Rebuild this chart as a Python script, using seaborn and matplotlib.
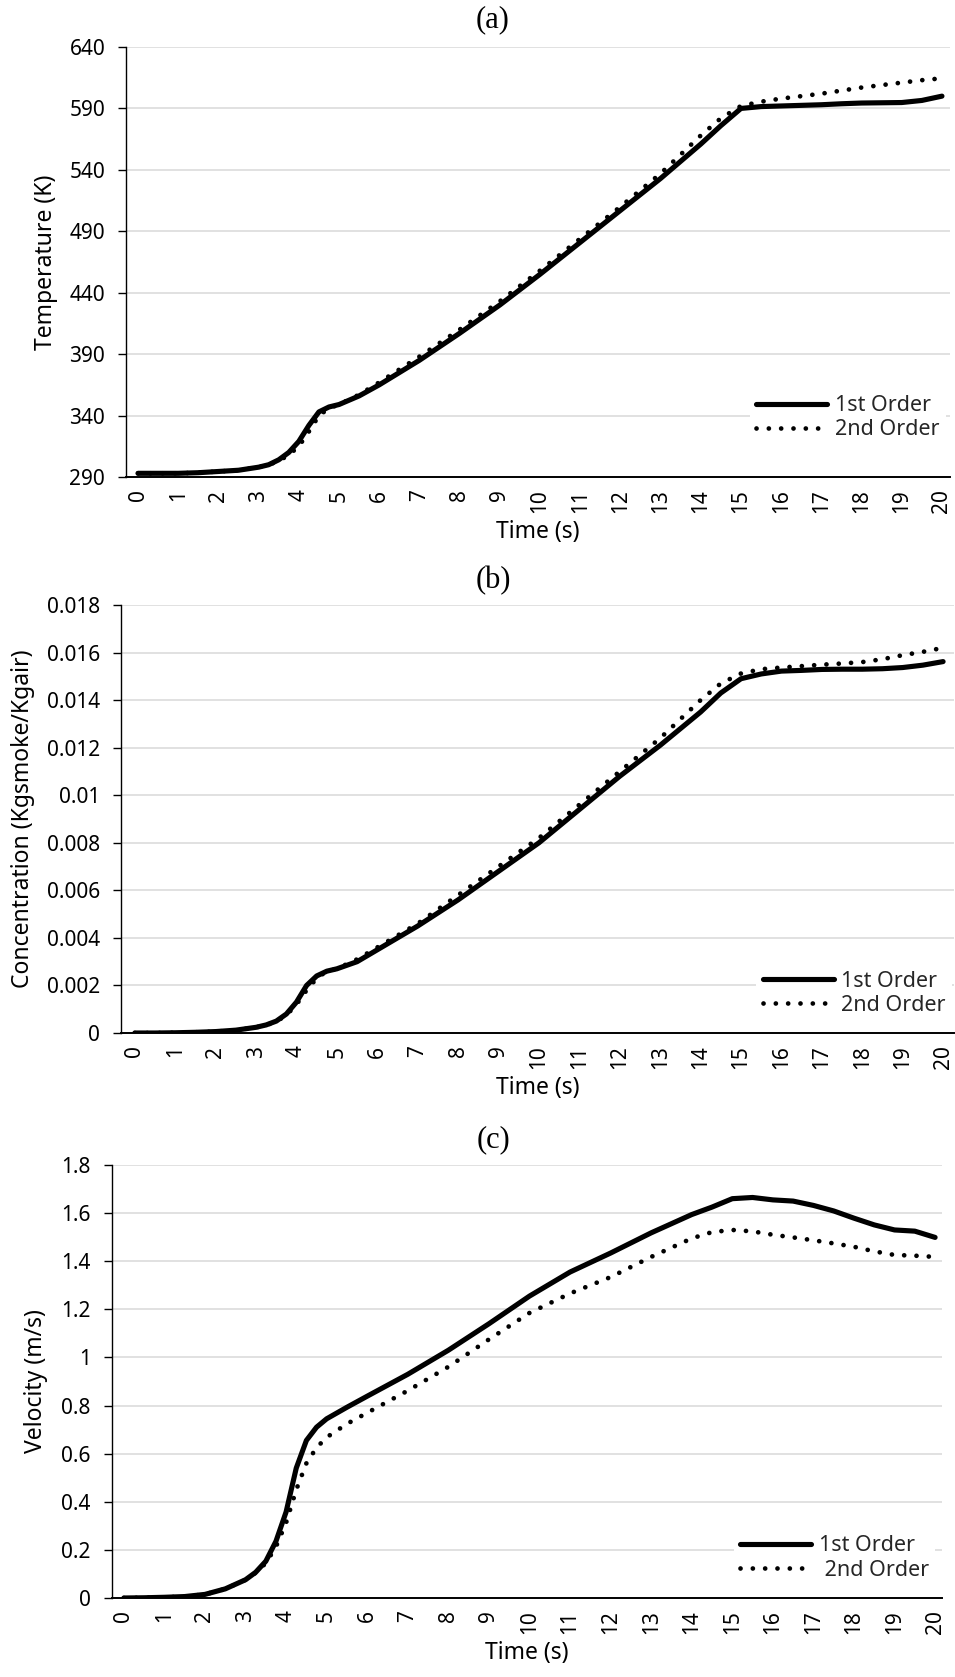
import numpy as np
import pandas as pd
import matplotlib
matplotlib.use("Agg")
import matplotlib.pyplot as plt
import seaborn as sns

# time points (s) the curves were read at
time = [0, 0.5, 1, 1.5, 2, 2.5, 3, 3.25, 3.5, 3.75, 4, 4.25, 4.5, 4.75, 5, 5.5, 6, 7, 8, 9,
        10, 11, 12, 13, 14, 14.5, 15, 15.5, 16, 16.5, 17, 17.5, 18, 18.5, 19, 19.5, 20]

# (a) temperature (K)
temp_1st = [293, 293, 293, 293.5, 294.5, 295.5, 298, 300, 304, 310, 319, 332, 343, 347, 349, 356, 365,
            385, 407, 430, 455, 481, 507, 533, 561, 576, 590, 591.5, 592, 592.5, 593, 593.8, 594.4,
            594.6, 594.8, 596.5, 600]
temp_2nd = [293, 293, 293, 293.5, 294.5, 295.5, 298, 300, 303, 308, 315, 327, 340, 346, 349, 357, 367,
            388, 410, 433, 458, 484, 510, 537, 568, 582, 592, 595.5, 598, 600, 602, 604.5, 607,
            609, 611, 613, 614.5]

# (b) concentration (kg smoke / kg air)
conc_1st = [0, 0, 0.00001, 0.00003, 0.00006, 0.00012, 0.00024, 0.00034, 0.0005, 0.0008, 0.0013, 0.002,
            0.0024, 0.0026, 0.0027, 0.003, 0.0035, 0.0045, 0.0056, 0.0068, 0.008, 0.0094, 0.0108,
            0.0121, 0.0135, 0.0143, 0.0149, 0.0151, 0.01522, 0.01525, 0.01529, 0.0153, 0.0153,
            0.01532, 0.01537, 0.01547, 0.01562]
conc_2nd = [0, 0, 0.00001, 0.00003, 0.00006, 0.00012, 0.00024, 0.00033, 0.00048, 0.00075, 0.0012, 0.0018,
            0.0023, 0.0026, 0.0027, 0.0031, 0.0036, 0.0046, 0.0058, 0.007, 0.0082, 0.0096, 0.011,
            0.0124, 0.014, 0.0147, 0.01512, 0.0153, 0.01537, 0.01543, 0.01549, 0.01554, 0.0156,
            0.01572, 0.01589, 0.01603, 0.0162]

# (c) velocity (m/s)
vel_1st = [0, 0.001, 0.003, 0.006, 0.015, 0.038, 0.076, 0.107, 0.153, 0.236, 0.358, 0.54, 0.655, 0.71,
           0.745, 0.793, 0.839, 0.93, 1.03, 1.14, 1.255, 1.355, 1.434, 1.518, 1.594, 1.625, 1.66,
           1.665, 1.655, 1.65, 1.632, 1.609, 1.579, 1.551, 1.53, 1.525, 1.499]
vel_2nd = [0, 0.001, 0.003, 0.006, 0.015, 0.038, 0.076, 0.105, 0.145, 0.213, 0.313, 0.45, 0.56, 0.625,
           0.668, 0.724, 0.77, 0.862, 0.961, 1.075, 1.185, 1.266, 1.334, 1.418, 1.495, 1.521, 1.53,
           1.524, 1.51, 1.499, 1.487, 1.474, 1.46, 1.441, 1.426, 1.423, 1.418]

x_ticks = list(range(0, 21))
temp_ticks = [290, 340, 390, 440, 490, 540, 590, 640]
conc_ticks = [0, 0.002, 0.004, 0.006, 0.008, 0.01, 0.012, 0.014, 0.016, 0.018]
conc_ticklabels = ['0', '0.002', '0.004', '0.006', '0.008', '0.01', '0.012', '0.014', '0.016', '0.018']
vel_ticks = [0, 0.2, 0.4, 0.6, 0.8, 1.0, 1.2, 1.4, 1.6, 1.8]
vel_ticklabels = ['0', '0.2', '0.4', '0.6', '0.8', '1', '1.2', '1.4', '1.6', '1.8']

sns.set_theme(style="white")
plt.rcParams['font.family'] = ['Noto Sans', 'DejaVu Sans']

W, H = 955, 1677
fig = plt.figure(figsize=(W / 100, H / 100), dpi=100)

def box(l, t, r, b):
    return [l / W, 1 - b / H, (r - l) / W, (b - t) / H]

panels = [
    dict(rect=box(126, 47, 950, 477), y1=temp_1st, y2=temp_2nd, ticks=temp_ticks,
         labels=[str(v) for v in temp_ticks], ylabel='Temperature (K)', xlim=(-0.3, 20.2),
         tag='(a)', tag_y=20, ylab_x=-0.083, leg=(0.995, 0.07), lab2='2nd Order'),
    dict(rect=box(120.7, 605, 954, 1033), y1=conc_1st, y2=conc_2nd, ticks=conc_ticks,
         labels=conc_ticklabels, ylabel='Concentration (Kgsmoke/Kgair)', xlim=(-0.35, 20.27),
         tag='(b)', tag_y=581, ylab_x=-0.103, leg=(0.998, 0.025), lab2='2nd Order'),
    dict(rect=box(111.7, 1165, 942, 1598), y1=vel_1st, y2=vel_2nd, ticks=vel_ticks,
         labels=vel_ticklabels, ylabel='Velocity (m/s)', xlim=(-0.3, 20.17),
         tag='(c)', tag_y=1140, ylab_x=-0.077, leg=(0.992, 0.025), lab2=' 2nd Order'),
]

for p in panels:
    ax = fig.add_axes(p['rect'])
    df = pd.DataFrame({'Time': time, 'first': p['y1'], 'second': p['y2']})
    sns.lineplot(data=df, x='Time', y='first', ax=ax, color='black', lw=3.7,
                 solid_capstyle='round', solid_joinstyle='round', label='1st Order')
    sns.lineplot(data=df, x='Time', y='second', ax=ax, color='black', lw=3.4,
                 linestyle=(0, (0.01, 2.6)), dash_capstyle='round', label=p['lab2'])

    ax.set_xlim(*p['xlim'])
    ax.set_ylim(p['ticks'][0], p['ticks'][-1])
    ax.set_xticks(x_ticks)
    ax.set_xticklabels([str(v) for v in x_ticks], rotation=90)
    ax.set_yticks(p['ticks'])
    ax.set_yticklabels(p['labels'])
    ax.tick_params(axis='x', length=0, pad=9, labelsize=15, colors='black')
    ax.tick_params(axis='y', length=6, width=1, pad=9, labelsize=15, colors='black', left=True)
    ax.grid(axis='y', color='#d9d9d9', lw=1.1)
    ax.grid(axis='x', visible=False)
    ax.set_axisbelow(True)
    for s in ['top', 'right']:
        ax.spines[s].set_visible(False)
    ax.spines['left'].set_color('black')
    ax.spines['left'].set_linewidth(1.0)
    ax.spines['bottom'].set_color('black')
    ax.spines['bottom'].set_linewidth(1.4)
    ax.set_xlabel('Time (s)', fontsize=16.5, color='black', labelpad=5)
    ax.set_ylabel(p['ylabel'], fontsize=16.5, color='black')
    ax.yaxis.set_label_coords(p['ylab_x'], 0.5)

    leg = ax.legend(loc='lower right', bbox_to_anchor=p['leg'], borderaxespad=0,
                    fontsize=15.5, handlelength=3.3, handletextpad=0.35, labelspacing=0.15,
                    frameon=True, facecolor='white', edgecolor='none', framealpha=1,
                    fancybox=False, borderpad=0.3)

    fig.text(493 / W, 1 - p['tag_y'] / H, p['tag'], ha='center', va='center',
             fontsize=22, family='Liberation Serif', color='black')

fig.savefig('out.png', dpi=100, facecolor='white')
